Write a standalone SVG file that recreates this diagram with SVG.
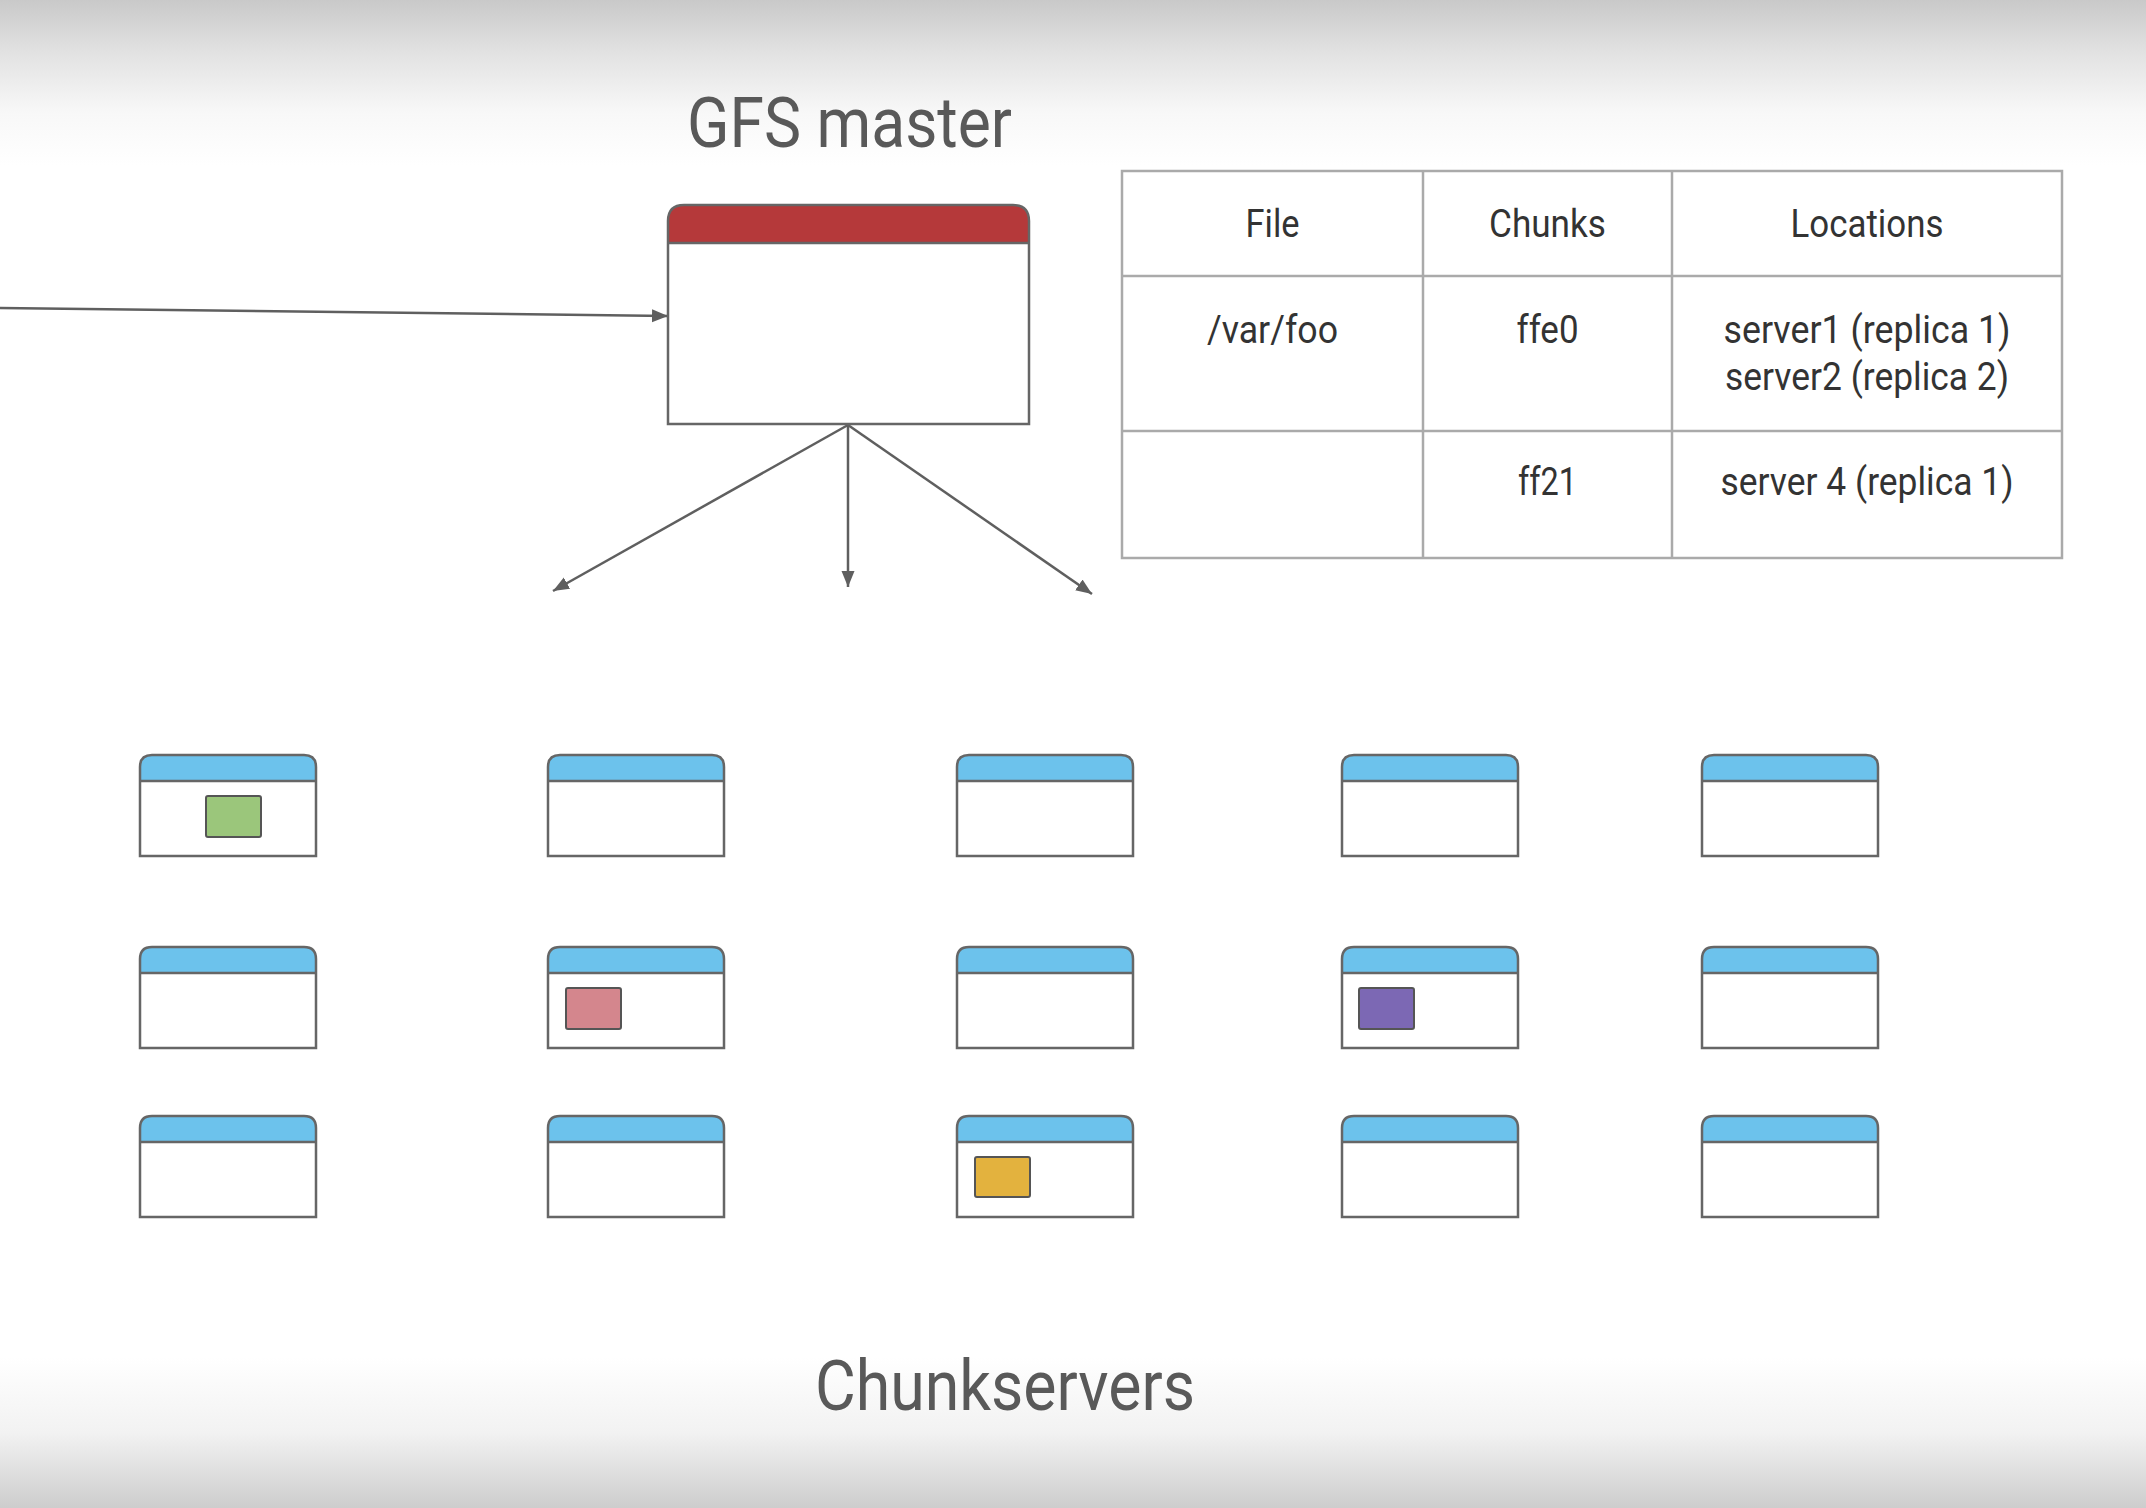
<svg xmlns="http://www.w3.org/2000/svg" xmlns:xlink="http://www.w3.org/1999/xlink" width="2146" height="1508" viewBox="0 0 2146 1508">
  <defs>
    <linearGradient id="bg" x1="0" y1="0" x2="0" y2="1">
      <stop offset="0" stop-color="#c9c9c9"/>
      <stop offset="0.035" stop-color="#e2e2e2"/>
      <stop offset="0.075" stop-color="#f8f8f8"/>
      <stop offset="0.11" stop-color="#ffffff"/>
      <stop offset="0.9" stop-color="#ffffff"/>
      <stop offset="0.95" stop-color="#f2f2f2"/>
      <stop offset="1" stop-color="#cdcdcd"/>
    </linearGradient>
    <marker id="arrow" markerUnits="userSpaceOnUse" markerWidth="18" markerHeight="14" refX="16" refY="6.5" orient="auto">
      <path d="M0,0 L16,6.5 L0,13 Z" fill="#5f5f5f"/>
    </marker>
    <g id="cs-shape">
      <path d="M0,26 V12 Q0,0 12,0 H164 Q176,0 176,12 V26 Z" fill="#6cc2ec"/>
      <rect x="0" y="26" width="176" height="75" fill="#ffffff"/>
      <path d="M0,26 V12 Q0,0 12,0 H164 Q176,0 176,12 V101 H0 Z" class="outline"/>
      <line x1="0" y1="26" x2="176" y2="26" class="outline"/>
    </g>
    <style>
      .outline { fill: none; stroke: #666666; stroke-width: 2.5; }
      .conn { stroke: #5f5f5f; stroke-width: 2.5; fill: none; marker-end: url(#arrow); }
      .title { font-family: Roboto, "Liberation Sans", sans-serif; font-size: 70px; fill: #595959; text-anchor: middle; }
      .cell { font-family: Roboto, "Liberation Sans", sans-serif; font-size: 38px; fill: #333333; text-anchor: middle; }
      .grid { stroke: #aaaaaa; stroke-width: 2.5; fill: none; }
      .chunk { stroke: #555555; stroke-width: 2; }
    </style>
  </defs>

  <rect x="0" y="0" width="2146" height="1508" fill="url(#bg)"/>

  <text class="title" x="849.5" y="147" textLength="325" lengthAdjust="spacingAndGlyphs">GFS master</text>
  <text class="title" x="1005" y="1410" textLength="380" lengthAdjust="spacingAndGlyphs">Chunkservers</text>

  <g id="connectors">
    <line class="conn" x1="0" y1="308" x2="668" y2="316"/>
    <line class="conn" x1="848" y1="425" x2="553" y2="591"/>
    <line class="conn" x1="848" y1="425" x2="848" y2="587"/>
    <line class="conn" x1="848" y1="425" x2="1092" y2="594"/>
  </g>

  <g id="master">
    <path d="M668,243 V221 Q668,205 684,205 H1013 Q1029,205 1029,221 V243 Z" fill="#b5393a"/>
    <rect x="668" y="243" width="361" height="181" fill="#ffffff"/>
    <path d="M668,243 V221 Q668,205 684,205 H1013 Q1029,205 1029,221 V424 H668 Z" class="outline"/>
    <line x1="668" y1="243" x2="1029" y2="243" class="outline"/>
  </g>

  <g id="table">
    <rect x="1122" y="171" width="940" height="387" fill="#ffffff" class="grid"/>
    <line class="grid" x1="1122" y1="276" x2="2062" y2="276"/>
    <line class="grid" x1="1122" y1="431" x2="2062" y2="431"/>
    <line class="grid" x1="1423" y1="171" x2="1423" y2="558"/>
    <line class="grid" x1="1672" y1="171" x2="1672" y2="558"/>
    <text class="cell" x="1272.5" y="237" textLength="54" lengthAdjust="spacingAndGlyphs">File</text>
    <text class="cell" x="1547.5" y="237" textLength="117" lengthAdjust="spacingAndGlyphs">Chunks</text>
    <text class="cell" x="1867" y="237" textLength="153" lengthAdjust="spacingAndGlyphs">Locations</text>
    <text class="cell" x="1272.5" y="343" textLength="131" lengthAdjust="spacingAndGlyphs">/var/foo</text>
    <text class="cell" x="1547.5" y="343" textLength="62" lengthAdjust="spacingAndGlyphs">ffe0</text>
    <text class="cell" x="1867" y="343" textLength="287" lengthAdjust="spacingAndGlyphs">server1 (replica 1)</text>
    <text class="cell" x="1867" y="390" textLength="284" lengthAdjust="spacingAndGlyphs">server2 (replica 2)</text>
    <text class="cell" x="1547.5" y="495" textLength="59" lengthAdjust="spacingAndGlyphs">ff21</text>
    <text class="cell" x="1867" y="495" textLength="293" lengthAdjust="spacingAndGlyphs">server 4 (replica 1)</text>
  </g>

  <g id="cs-r1c1"><use xlink:href="#cs-shape" href="#cs-shape" x="140" y="755"/><rect class="chunk" x="206" y="796" width="55" height="41" rx="2" fill="#9bc67b"/></g>
  <g id="cs-r1c2"><use xlink:href="#cs-shape" href="#cs-shape" x="548" y="755"/></g>
  <g id="cs-r1c3"><use xlink:href="#cs-shape" href="#cs-shape" x="957" y="755"/></g>
  <g id="cs-r1c4"><use xlink:href="#cs-shape" href="#cs-shape" x="1342" y="755"/></g>
  <g id="cs-r1c5"><use xlink:href="#cs-shape" href="#cs-shape" x="1702" y="755"/></g>

  <g id="cs-r2c1"><use xlink:href="#cs-shape" href="#cs-shape" x="140" y="947"/></g>
  <g id="cs-r2c2"><use xlink:href="#cs-shape" href="#cs-shape" x="548" y="947"/><rect class="chunk" x="566" y="988" width="55" height="41" rx="2" fill="#d4868d"/></g>
  <g id="cs-r2c3"><use xlink:href="#cs-shape" href="#cs-shape" x="957" y="947"/></g>
  <g id="cs-r2c4"><use xlink:href="#cs-shape" href="#cs-shape" x="1342" y="947"/><rect class="chunk" x="1359" y="988" width="55" height="41" rx="2" fill="#7c68b4"/></g>
  <g id="cs-r2c5"><use xlink:href="#cs-shape" href="#cs-shape" x="1702" y="947"/></g>

  <g id="cs-r3c1"><use xlink:href="#cs-shape" href="#cs-shape" x="140" y="1116"/></g>
  <g id="cs-r3c2"><use xlink:href="#cs-shape" href="#cs-shape" x="548" y="1116"/></g>
  <g id="cs-r3c3"><use xlink:href="#cs-shape" href="#cs-shape" x="957" y="1116"/><rect class="chunk" x="975" y="1157" width="55" height="40" rx="2" fill="#e3b23e"/></g>
  <g id="cs-r3c4"><use xlink:href="#cs-shape" href="#cs-shape" x="1342" y="1116"/></g>
  <g id="cs-r3c5"><use xlink:href="#cs-shape" href="#cs-shape" x="1702" y="1116"/></g>
</svg>
